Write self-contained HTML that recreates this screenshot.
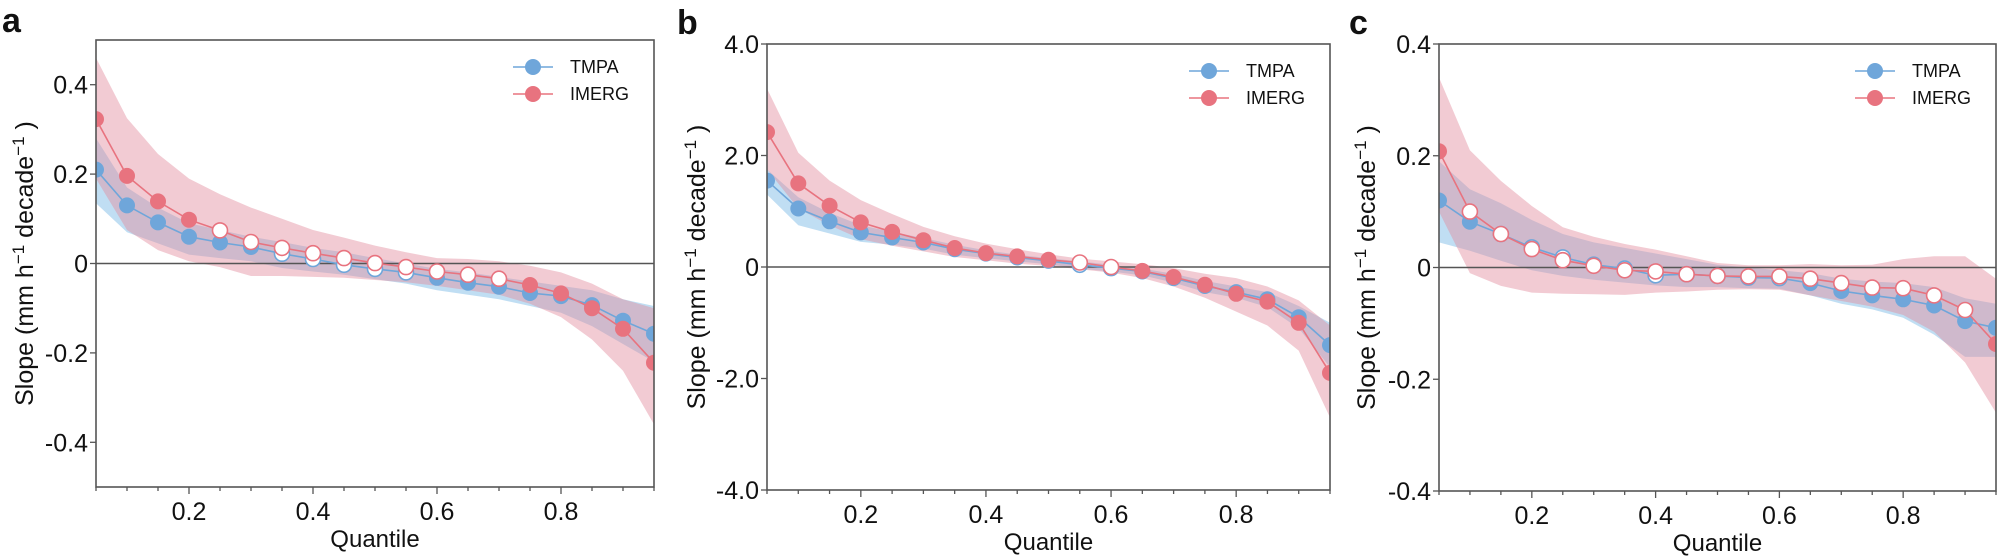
<!DOCTYPE html>
<html><head><meta charset="utf-8"><style>
body{margin:0;background:#fff;width:2000px;height:558px;overflow:hidden}
svg{display:block}
text{font-family:"Liberation Sans",Arial,sans-serif;fill:#111}
</style></head><body>
<svg id="s" width="2000" height="558" viewBox="0 0 2000 558" xmlns="http://www.w3.org/2000/svg"></svg>
<script>
const S=document.getElementById('s');
let h='';
const xs=[];for(let i=0;i<19;i++)xs.push(0.05+0.05*i);
function panel(p){
  const X=v=>p.l+(v-0.05)/0.9*(p.r-p.l);
  const Y=v=>p.t+(p.ymax-v)/(p.ymax-p.ymin)*(p.b-p.t);
  const band=(u,lo,fill,op)=>{let d='M'+xs.map((x,i)=>X(x).toFixed(1)+','+Y(u[i]).toFixed(1)).join('L');
    for(let i=18;i>=0;i--)d+='L'+X(xs[i]).toFixed(1)+','+Y(lo[i]).toFixed(1);
    h+=`<path d="${d}Z" fill="${fill}" fill-opacity="${op}"/>`;};
  h+=`<defs><clipPath id="c${p.id}"><rect x="${p.l}" y="${p.t}" width="${p.r-p.l}" height="${p.b-p.t}"/></clipPath></defs><g clip-path="url(#c${p.id})">`;
  band(p.bu,p.bl,'rgb(150,200,235)',0.6);
  band(p.ru,p.rl,'rgb(226,140,158)',0.45);
  h+=`<line x1="${p.l}" x2="${p.r}" y1="${Y(0)}" y2="${Y(0)}" stroke="#555" stroke-width="1.6"/>`;
  const ser=(d,col,open)=>{h+=`<polyline fill="none" stroke="${col}" stroke-width="1.6" points="${xs.map((x,i)=>X(x).toFixed(1)+','+Y(d[i]).toFixed(1)).join(' ')}"/>`;
    d.forEach((v,i)=>{const o=open.includes(i);h+=`<circle cx="${X(xs[i]).toFixed(1)}" cy="${Y(v).toFixed(1)}" r="${o?7.5:8}" fill="${o?'#fff':col}" stroke="${o?col:'none'}" stroke-width="1.6"/>`;});};
  ser(p.tm,'#6fa6da',p.to);
  ser(p.im,'#e8737f',p.io);
  h+='</g>';
  h+=`<rect x="${p.l}" y="${p.t}" width="${p.r-p.l}" height="${p.b-p.t}" fill="none" stroke="#555" stroke-width="1.6"/>`;
  for(let i=0;i<19;i++){const x=X(xs[i]);const maj=Math.abs(Math.round(xs[i]*10)-xs[i]*10)<1e-6&&Math.round(xs[i]*10)%2==0;
    h+=`<line x1="${x}" x2="${x}" y1="${p.b}" y2="${p.b+(maj?7:4)}" stroke="#555" stroke-width="1.3"/>`;
    if(maj)h+=`<text x="${x}" y="${p.b+33}" font-size="25" text-anchor="middle">${xs[i].toFixed(1)}</text>`;}
  p.yt.forEach(([v,l])=>{const y=Y(v);h+=`<line x1="${p.l-6}" x2="${p.l}" y1="${y}" y2="${y}" stroke="#555" stroke-width="1.3"/><text x="${p.l-8}" y="${y+9}" font-size="25" text-anchor="end">${l}</text>`;});
  h+=`<text x="${(p.l+p.r)/2}" y="${p.b+60}" font-size="24" text-anchor="middle">Quantile</text>`;
  h+=`<text transform="translate(${p.yl},${(p.t+p.b)/2}) rotate(-90)" font-size="25" text-anchor="middle">Slope (mm h<tspan dy="-9" font-size="17">−1</tspan><tspan dy="9"> decade</tspan><tspan dy="-9" font-size="17">−1</tspan><tspan dy="9"> )</tspan></text>`;
  h+=`<text x="${p.lx}" y="${p.ly}" font-size="34" font-weight="bold">${p.id}</text>`;
  const lx=p.r-141,ly=p.t+27;
  h+=`<line x1="${lx}" x2="${lx+40}" y1="${ly}" y2="${ly}" stroke="#6fa6da" stroke-width="1.6"/><circle cx="${lx+20}" cy="${ly}" r="8" fill="#6fa6da"/><text x="${lx+57}" y="${ly+6}" font-size="18">TMPA</text>`;
  h+=`<line x1="${lx}" x2="${lx+40}" y1="${ly+27}" y2="${ly+27}" stroke="#e8737f" stroke-width="1.6"/><circle cx="${lx+20}" cy="${ly+27}" r="8" fill="#e8737f"/><text x="${lx+57}" y="${ly+33}" font-size="18">IMERG</text>`;
}
panel({id:'a',l:96,r:654,t:40,b:487,ymin:-0.5,ymax:0.5,yl:33,lx:2,ly:32,
 yt:[[0.4,'0.4'],[0.2,'0.2'],[0,'0'],[-0.2,'-0.2'],[-0.4,'-0.4']],
 tm:[0.21,0.13,0.092,0.06,0.047,0.037,0.022,0.01,-0.003,-0.012,-0.02,-0.032,-0.043,-0.052,-0.066,-0.073,-0.093,-0.128,-0.157],
 im:[0.323,0.196,0.139,0.098,0.074,0.048,0.035,0.023,0.012,0.001,-0.008,-0.018,-0.025,-0.034,-0.048,-0.067,-0.1,-0.146,-0.222],
 to:[6,7,8,9,10],io:[4,5,6,7,8,9,10,11,12,13],
 ru:[0.46,0.325,0.245,0.19,0.155,0.125,0.1,0.075,0.058,0.04,0.025,0.012,0.01,0.005,-0.005,-0.02,-0.045,-0.08,-0.1],
 rl:[0.19,0.075,0.03,0.005,-0.008,-0.028,-0.028,-0.03,-0.032,-0.037,-0.042,-0.05,-0.06,-0.07,-0.09,-0.12,-0.17,-0.24,-0.36],
 bu:[0.28,0.17,0.125,0.09,0.075,0.06,0.048,0.035,0.025,0.012,0.0,-0.012,-0.02,-0.03,-0.04,-0.05,-0.06,-0.08,-0.095],
 bl:[0.135,0.07,0.045,0.02,0.012,0.005,-0.01,-0.018,-0.025,-0.035,-0.045,-0.06,-0.07,-0.08,-0.095,-0.11,-0.14,-0.18,-0.22]});
panel({id:'b',l:767,r:1330,t:44,b:490,ymin:-4,ymax:4,yl:705,lx:677,ly:34,
 yt:[[4,'4.0'],[2,'2.0'],[0,'0'],[-2,'-2.0'],[-4,'-4.0']],
 tm:[1.55,1.05,0.82,0.62,0.53,0.44,0.32,0.24,0.17,0.11,0.04,-0.02,-0.08,-0.2,-0.34,-0.45,-0.58,-0.9,-1.4],
 im:[2.42,1.5,1.1,0.8,0.63,0.48,0.34,0.25,0.19,0.13,0.08,0.0,-0.07,-0.18,-0.32,-0.48,-0.62,-1.0,-1.9],
 to:[10,11],io:[10,11],
 ru:[3.2,2.05,1.55,1.2,0.95,0.72,0.55,0.42,0.32,0.23,0.15,0.1,0.05,-0.02,-0.12,-0.2,-0.35,-0.6,-1.05],
 rl:[1.75,1.05,0.75,0.5,0.38,0.28,0.18,0.12,0.06,0.02,-0.04,-0.1,-0.2,-0.35,-0.55,-0.8,-1.05,-1.5,-2.7],
 bu:[1.75,1.25,0.97,0.75,0.63,0.52,0.4,0.3,0.22,0.16,0.1,0.04,-0.03,-0.12,-0.25,-0.35,-0.45,-0.7,-1.0],
 bl:[1.3,0.75,0.6,0.45,0.4,0.33,0.22,0.16,0.1,0.05,-0.03,-0.08,-0.15,-0.28,-0.45,-0.55,-0.72,-1.1,-1.8]});
panel({id:'c',l:1439,r:1996,t:44,b:491,ymin:-0.4,ymax:0.4,yl:1375,lx:1349,ly:34,
 yt:[[0.4,'0.4'],[0.2,'0.2'],[0,'0'],[-0.2,'-0.2'],[-0.4,'-0.4']],
 tm:[0.12,0.082,0.06,0.036,0.018,0.005,-0.002,-0.014,-0.012,-0.015,-0.018,-0.019,-0.028,-0.042,-0.05,-0.057,-0.068,-0.096,-0.108],
 im:[0.208,0.1,0.06,0.033,0.013,0.003,-0.005,-0.007,-0.012,-0.015,-0.016,-0.016,-0.02,-0.028,-0.036,-0.037,-0.05,-0.076,-0.137],
 to:[2,3,4,5,6,7,8,9,10,11],io:[1,2,3,4,5,6,7,8,9,10,11,12,13,14,15,16,17],
 ru:[0.34,0.21,0.155,0.11,0.072,0.055,0.042,0.032,0.02,0.008,0.004,0.004,0.006,0.004,0.005,0.015,0.02,0.02,-0.02],
 rl:[0.1,-0.01,-0.033,-0.045,-0.047,-0.048,-0.049,-0.045,-0.043,-0.04,-0.039,-0.04,-0.05,-0.06,-0.07,-0.085,-0.115,-0.17,-0.26],
 bu:[0.19,0.14,0.115,0.085,0.06,0.045,0.035,0.025,0.015,0.005,0.0,-0.005,-0.01,-0.02,-0.025,-0.028,-0.035,-0.055,-0.065],
 bl:[0.045,0.03,0.012,-0.005,-0.015,-0.022,-0.027,-0.032,-0.035,-0.035,-0.037,-0.038,-0.05,-0.065,-0.075,-0.09,-0.12,-0.16,-0.16]});
S.innerHTML=h;
</script>
</body></html>
